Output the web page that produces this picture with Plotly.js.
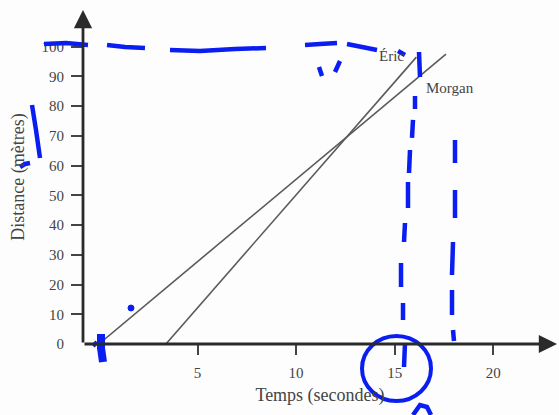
<!DOCTYPE html>
<html>
<head>
<meta charset="utf-8">
<script src="https://cdn.plot.ly/plotly-3.0.1.min.js"></script>
<style>
  html, body { margin: 0; padding: 0; background: #fdfdfd; }
  #chart { width: 559px; height: 415px; }
</style>
</head>
<body>
<div id="chart"></div>
<script>
// ---- Data ----
const seriesNames = ["Éric", "Morgan"];
const ericTime = [3.4, 16.1];      // secondes
const ericDistance = [0, 96.5];    // mètres
const morganTime = [0, 17.6];
const morganDistance = [0, 97.5];
const xTickVals = [5, 10, 15, 20];
const yTickVals = [0, 10, 20, 30, 40, 50, 60, 70, 80, 90, 100];
const yMinorTicks = [10, 20, 30, 40, 50, 60, 70, 80, 90, 100];
const xTitle = "Temps (secondes)";
const yTitle = "Distance (mètres)";

// ---- Hand-drawn blue pen marks on the scan (pixel positions on the page) ----
const penStrokes = [
  [[44,44],[66,43],[88,45]],
  [[107,45],[125,47],[145,48]],
  [[170,50],[200,51],[235,49],[266,48]],
  [[305,45],[320,44],[337,43]],
  [[347,44],[362,47],[377,50]],
  [[398,51],[405,55]],
  [[319,67],[322,76]],
  [[340,61],[335,72]],
  [[419,52],[420,77]],
  [[415,96],[415,109]],
  [[413,120],[412,138]],
  [[410,150],[409,173]],
  [[408,182],[408,208]],
  [[405,223],[404,242]],
  [[401,263],[401,287]],
  [[403,303],[403,320]],
  [[405,343],[404,367]],
  [[455,140],[455,163]],
  [[455,190],[455,218]],
  [[453,242],[452,275]],
  [[452,290],[452,315]],
  [[453,330],[454,341]],
  [[413,415],[420,405],[427,407],[431,415]],
  [[32,105],[36,130],[40,158]],
  [[20,167],[25,164],[30,163]],
  [[93,346],[97,342]]
];
const penBlob = [[101,334],[101,348],[103,362]];
const penCircle = [362, 336, 431, 401];
const penDot = [131, 308, 3];

// ---- Layout geometry ----
const W = 559, H = 415;
const M = { l: 83, r: 2, t: 10, b: 71 };
const PW = W - M.l - M.r, PH = H - M.t - M.b;
const px = x => (x - M.l) / PW;
const py = y => (H - M.b - y) / PH;
const penColor = "#0a1ef2";

function pathOf(pts) {
  return pts.map((p, i) => (i ? "L" : "M") + px(p[0]).toFixed(5) + "," + py(p[1]).toFixed(5)).join(" ");
}

const shapes = penStrokes.map(s => ({
  type: "path", xref: "paper", yref: "paper", path: pathOf(s),
  line: { color: penColor, width: 4.5 }
}));
shapes.push({ type: "path", xref: "paper", yref: "paper", path: pathOf(penBlob),
  line: { color: penColor, width: 8 } });
shapes.push({ type: "circle", xref: "paper", yref: "paper",
  x0: px(penCircle[0]), x1: px(penCircle[2]), y0: py(penCircle[3]), y1: py(penCircle[1]),
  line: { color: penColor, width: 4 } });
shapes.push({ type: "circle", xref: "paper", yref: "paper", fillcolor: penColor,
  x0: px(penDot[0] - penDot[2]), x1: px(penDot[0] + penDot[2]),
  y0: py(penDot[1] + penDot[2]), y1: py(penDot[1] - penDot[2]),
  line: { color: penColor, width: 1 } });

const lineStyle = { color: "#5a5a5a", width: 1.6 };
const traces = [
  { x: ericTime, y: ericDistance, name: seriesNames[0], mode: "lines", line: lineStyle, hoverinfo: "skip" },
  { x: morganTime, y: morganDistance, name: seriesNames[1], mode: "lines", line: lineStyle, hoverinfo: "skip" }
];

const serif = "Liberation Serif, Times New Roman, serif";
const axisColor = "#2a2a2a";

const layout = {
  width: W, height: H,
  margin: M,
  paper_bgcolor: "#fdfdfd",
  plot_bgcolor: "#fdfdfd",
  showlegend: false,
  font: { family: serif, color: "#444", size: 15 },
  xaxis: {
    range: [(M.l - 98.9) / 19.72, (W - M.r - 98.9) / 19.72],
    tickmode: "array", tickvals: xTickVals,
    ticks: "outside", ticklen: 10, tickwidth: 2, tickcolor: "#444",
    ticklabelstandoff: 5,
    showgrid: false, zeroline: false, showline: false,
    tickfont: { family: serif, size: 15, color: "#444" },
    title: { text: xTitle, font: { family: serif, size: 18, color: "#444" }, standoff: 8 },
    automargin: false, fixedrange: true
  },
  yaxis: {
    range: [0, PH / 2.973],
    tickmode: "array", tickvals: yTickVals,
    ticks: "outside", ticklen: 11, tickwidth: 2, tickcolor: "rgba(0,0,0,0)",
    minor: { tickmode: "array", tickvals: yMinorTicks, ticks: "outside", ticklen: 11, tickwidth: 2, tickcolor: "#444", showgrid: false },
    ticklabelstandoff: 4,
    showgrid: false, zeroline: false, showline: false,
    tickfont: { family: serif, size: 15, color: "#444" },
    title: { text: yTitle, font: { family: serif, size: 18, color: "#444" }, standoff: 12 },
    automargin: false, fixedrange: true
  },
  shapes: shapes,
  annotations: [
    { x: 14.85, y: 97, xref: "x", yref: "y", text: seriesNames[0], showarrow: false,
      font: { family: serif, size: 15, color: "#444" } },
    { x: 17.8, y: 86, xref: "x", yref: "y", text: seriesNames[1], showarrow: false,
      font: { family: serif, size: 15, color: "#444" } },
    // axis lines with arrowheads
    { x: 1, y: 0, xref: "paper", yref: "paper", ax: -PW, ay: 0, axref: "pixel", ayref: "pixel",
      showarrow: true, arrowhead: 2, arrowsize: 1.3, arrowwidth: 2.8, arrowcolor: axisColor, text: "" },
    { x: 0, y: 1, xref: "paper", yref: "paper", ax: 0, ay: PH, axref: "pixel", ayref: "pixel",
      showarrow: true, arrowhead: 2, arrowsize: 1.3, arrowwidth: 2.8, arrowcolor: axisColor, text: "" }
  ]
};

Plotly.newPlot("chart", traces, layout, { staticPlot: true, displayModeBar: false });
</script>
</body>
</html>
